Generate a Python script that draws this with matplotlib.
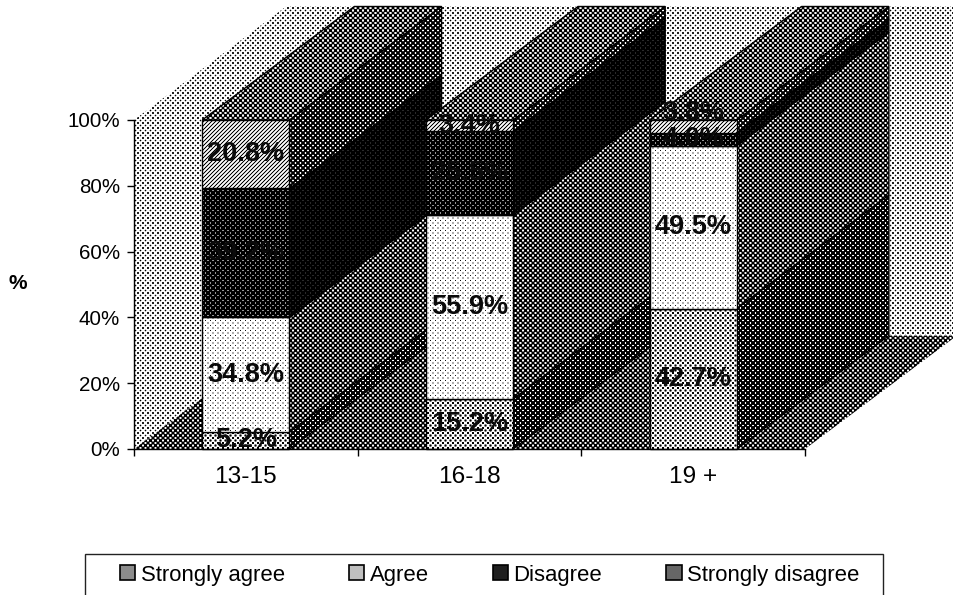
import numpy as np
import matplotlib
matplotlib.use('Agg')
import matplotlib.pyplot as plt
from matplotlib.patches import Polygon, Patch, Rectangle

plt.rcParams['font.family'] = ['Liberation Sans', 'DejaVu Sans']

# Datos
grupos = ['13-15', '16-18', '19 +']
series = ['Strongly agree', 'Agree', 'Disagree', 'Strongly disagree']
strongly_agree = [5.2, 15.2, 42.7]
agree = [34.8, 55.9, 49.5]
disagree = [39.2, 25.5, 4.0]
strongly_disagree = [20.8, 3.4, 3.8]
valores = [strongly_agree, agree, disagree, strongly_disagree]

ANCHO, ALTO = 954, 595
ANCHO_BARRA = 0.39
PROF_X = 0.68   # desplazamiento de la profundidad (oblicua)
PROF_Y = 34.5

# tono medio de la trama en cada cara
tono_frente = [0.62, 0.88, 0.12, 0.58]
tono_lado = [0.25, 0.36, 0.0, 0.28]
tono_pared = 0.72
tono_suelo = 0.36
tono_techo = 0.40
tono_leyenda = [0.55, 0.75, 0.12, 0.40]

fig = plt.figure(figsize=(ANCHO / 100, ALTO / 100), dpi=100)
ax = fig.add_axes([134 / ANCHO, (ALTO - 449) / ALTO, 671 / ANCHO, 329 / ALTO])
ax.set_xlim(-0.5, 2.5)
ax.set_ylim(0, 100)
ax.patch.set_visible(False)

xx, yy = np.meshgrid(np.arange(ANCHO), np.arange(ALTO))
puntos = 0.5 + 0.5 * np.cos(2 * np.pi * xx / 5) * np.cos(2 * np.pi * yy / 5)
rayas = 0.5 + 0.5 * np.cos(2 * np.pi * (xx + yy) / 4)

esquinas = ax.transData.inverted().transform([(0, 0), (ANCHO, ALTO)])
extension = (esquinas[0, 0], esquinas[1, 0], esquinas[0, 1], esquinas[1, 1])
orden = [0.1]


def cara(vertices, tono, pantalla=puntos, borde='black', grosor=1.0):
    # Polígono relleno con una trama de semitono, como el original escaneado
    orden[0] += 0.01
    imagen = np.clip((tono - pantalla) * 3.5 + 0.5, 0, 1)
    poligono = Polygon(vertices, closed=True, facecolor='none', edgecolor=borde,
                       linewidth=grosor, clip_on=False, zorder=orden[0] + 0.005,
                       transform=ax.transData)
    ax.add_patch(poligono)
    im = ax.imshow(imagen, cmap='gray', vmin=0, vmax=1, extent=extension, origin='upper',
                   aspect='auto', interpolation='nearest', zorder=orden[0])
    im.set_clip_box(fig.bbox)
    im.set_clip_path(poligono)


# Paredes y suelo
x0, x1 = ax.get_xlim()
cara([(x0, 0), (x0, 100), (x0 + PROF_X, 100 + PROF_Y), (x0 + PROF_X, PROF_Y)], tono_pared, borde='none')
cara([(x0 + PROF_X, PROF_Y), (x0 + PROF_X, 100 + PROF_Y), (x1 + PROF_X, 100 + PROF_Y), (x1 + PROF_X, PROF_Y)],
     tono_pared, borde='none')
cara([(x0, 0), (x1, 0), (x1 + PROF_X, PROF_Y), (x0 + PROF_X, PROF_Y)], tono_suelo, borde='none')

# Barras apiladas con su cara lateral y superior
for i in range(len(grupos)):
    izq = i - ANCHO_BARRA / 2
    der = i + ANCHO_BARRA / 2
    base = 0
    for s in range(len(series)):
        v = valores[s][i]
        cara([(der, base), (der, base + v), (der + PROF_X, base + v + PROF_Y), (der + PROF_X, base + PROF_Y)],
             tono_lado[s])
        pantalla = rayas if s == 3 else puntos
        cara([(izq, base), (der, base), (der, base + v), (izq, base + v)], tono_frente[s], pantalla)
        base += v
    cara([(izq, base), (der, base), (der + PROF_X, base + PROF_Y), (izq + PROF_X, base + PROF_Y)], tono_techo)

# Etiquetas de valor
for i in range(len(grupos)):
    base = 0
    for s in range(len(series)):
        v = valores[s][i]
        y = base + v / 2
        if i == 2 and s == 3:
            y = 102  # Excel la deja por encima de la barra
        ax.text(i, y, '%.1f%%' % v, ha='center', va='center', fontsize=19.5, fontweight='bold',
                color='#0a0a0a', zorder=5, clip_on=False)
        base += v

# Ejes
for lado in ['top', 'right']:
    ax.spines[lado].set_visible(False)
ax.spines['left'].set_linewidth(1.0)
ax.spines['bottom'].set_linewidth(1.0)
ax.set_yticks(range(0, 101, 20))
ax.set_yticklabels(['%d%%' % v for v in range(0, 101, 20)], fontsize=14.8)
ax.tick_params(axis='y', length=5, pad=5, width=1)
ax.set_xticks([-0.5, 0.5, 1.5, 2.5])
ax.set_xticklabels([])
ax.set_xticks(range(len(grupos)), minor=True)
ax.set_xticklabels(grupos, minor=True, fontsize=17.6)
ax.tick_params(axis='x', which='major', length=5, width=1)
ax.tick_params(axis='x', which='minor', length=0, pad=12)
ax.set_ylabel('%', rotation=0, fontsize=15, fontweight='bold', ha='center', va='center')
ax.yaxis.set_label_coords(-0.173, 0.502)

# Leyenda
manejadores = [Patch(facecolor=str(t), edgecolor='black', linewidth=1.2, label=n)
               for t, n in zip(tono_leyenda, series)]
fig.legend(handles=manejadores, loc='center left', bbox_to_anchor=(120 / ANCHO, (ALTO - 575) / ALTO),
           ncol=4, frameon=False, fontsize=15.9, handlelength=0.69, handleheight=0.64,
           handletextpad=0.25, columnspacing=2.9, borderpad=0, borderaxespad=0)
fig.add_artist(Rectangle((85 / ANCHO, -0.05), 798 / ANCHO, (ALTO - 554) / ALTO + 0.05, transform=fig.transFigure,
                         facecolor='none', edgecolor='#222222', linewidth=1.0))

fig.savefig('out.png', dpi=100)
